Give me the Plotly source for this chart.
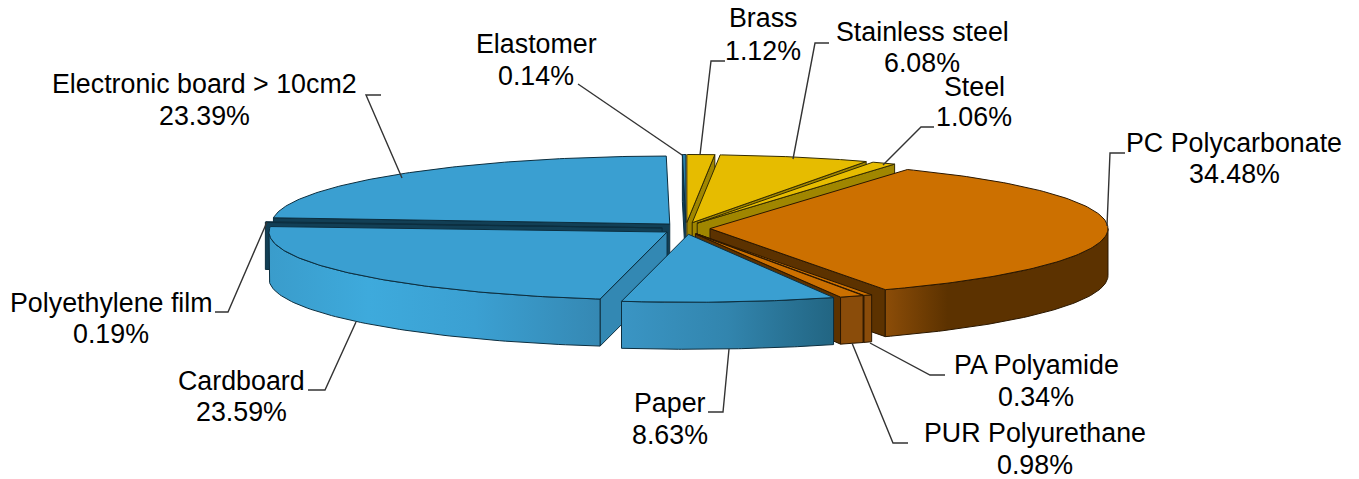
import numpy as np
import plotly.graph_objects as go

# ---- data, clockwise from twelve o'clock ----
categories = ["Brass", "Stainless steel", "Steel", "PC Polycarbonate", "PA Polyamide",
              "PUR Polyurethane", "Paper", "Cardboard", "Polyethylene film",
              "Electronic board > 10cm2", "Elastomer"]
values = [1.12, 6.08, 1.06, 34.48, 0.34, 0.98, 8.63, 23.59, 0.19, 23.39, 0.14]

# ---- label placement (centre x, line 1 y, line 2 y) ----
label_pos = [(763, 18, 51), (922, 32, 63), (974, 87, 117), (1234, 143, 174), (1036, 365, 397),
             (1035, 433, 465), (670, 403, 435), (241, 381, 412), (111, 303, 334),
             (204, 84, 116), (536, 44, 76)]
leaders = [
    [(725, 61), (711, 61), (700, 155)],
    [(829, 43), (815, 43), (793, 159)],
    [(934, 127), (921, 127), (883, 165)],
    [(1125, 153), (1110, 153), (1107, 226)],
    [(945, 375), (930, 375), (870, 343)],
    [(908, 443), (893, 443), (852, 343)],
    [(708, 412), (723, 412), (729, 349)],
    [(308, 390), (325, 390), (356, 322)],
    [(215, 312), (228, 312), (267, 222)],
    [(381, 95), (366, 95), (402, 178)],
    [(578, 84), (682, 155)],
]

# ---- pie geometry ----
CX, CY = 686, 228.4
RX, RY = 398, 68
DEPTH = 47
PULL_X, PULL_Y = 24, 5.9

# ---- styles ----
BLUE = dict(top="#3A9FD1", face="#3388B3", line="#0C2E3F")
ORANGE = dict(top="#CC7000", face="#5C3200", line="#2A1700")
YELLOW = dict(top="#E6BC00", face="#A08600", line="#332B00")
family = [YELLOW, YELLOW, YELLOW, ORANGE, ORANGE, ORANGE, BLUE, BLUE, BLUE, BLUE, BLUE]
wall = {
    3: [(0, "#8C4D08"), (0.28, "#5C3200"), (1, "#5C3200")],
    4: [(0, "#8A4C0A"), (1, "#8A4C0A")],
    5: [(0, "#8A4C0A"), (1, "#8A4C0A")],
    6: [(0, "#3A95C4"), (0.5, "#3285AE"), (1, "#226582")],
    7: [(0, "#3A9CCB"), (0.3, "#3EAADC"), (0.62, "#3BA0D2"), (1, "#3588B3")],
}
face_override = {3: "#5C3200", 8: "#123F55", 9: "#123F55", 10: "#123F55"}
top_override = {8: "#1C566F", 10: "#2A80A8"}
draw_order = [9, 10, 8, 7, 0, 1, 2, 3, 4, 5, 6]

edges = np.cumsum([0] + values) / sum(values) * 360

fig = go.Figure()


def add_poly(name, xs, ys, color, line, gradient=None):
    kw = dict(fillgradient=dict(type="horizontal", colorscale=gradient)) if gradient else dict(fillcolor=color)
    fig.add_trace(go.Scatter(x=xs, y=ys, mode="lines", fill="toself", name=name, hoverinfo="name",
                             line=dict(color=line, width=1), showlegend=False, **kw))


for i in draw_order:
    a, b = edges[i], edges[i + 1]
    m = np.radians((a + b) / 2)
    ax = CX + PULL_X * np.sin(m)
    ay = CY - PULL_Y * np.cos(m)

    def px(t):
        return ax + RX * np.sin(np.radians(t))

    def py(t):
        return ay - RY * np.cos(np.radians(t))

    st = family[i]
    face = face_override.get(i, st["face"])
    # cut faces turned toward the viewer
    if np.sin(np.radians(a)) < 0:
        add_poly(categories[i], [ax, px(a), px(a), ax, ax],
                 [ay, py(a), py(a) + DEPTH, ay + DEPTH, ay], face, st["line"])
    if np.sin(np.radians(b)) > 0:
        add_poly(categories[i], [ax, px(b), px(b), ax, ax],
                 [ay, py(b), py(b) + DEPTH, ay + DEPTH, ay], face, st["line"])
    # outer wall: the front half of the rim only
    lo, hi = max(a, 90), min(b, 270)
    if hi > lo:
        t = np.linspace(lo, hi, 80)
        xs = np.r_[px(t), px(t[::-1]), px(t[0])]
        ys = np.r_[py(t), py(t[::-1]) + DEPTH, py(t[0])]
        add_poly(categories[i], xs, ys, face, st["line"], wall.get(i))
    # top
    t = np.linspace(a, b, 120)
    add_poly(categories[i], np.r_[ax, px(t), ax], np.r_[ay, py(t), ay],
             top_override.get(i, st["top"]), st["line"])

annotations = []
for name, v, (lx, y1, y2) in zip(categories, values, label_pos):
    for text, y in ((name, y1), (f"{v:.2f}%", y2)):
        annotations.append(dict(x=lx, y=y, text=text, showarrow=False, xanchor="center", yanchor="middle",
                                font=dict(family="Liberation Sans", size=26.8, color="#000000")))

shapes = []
for pts in leaders:
    path = "M " + " L ".join(f"{x},{y}" for x, y in pts)
    shapes.append(dict(type="path", path=path, xref="x", yref="y", layer="above",
                       line=dict(color="#333333", width=1.4)))

fig.update_layout(
    width=1359, height=479, margin=dict(l=0, r=0, t=0, b=0),
    paper_bgcolor="white", plot_bgcolor="white", showlegend=False,
    xaxis=dict(range=[0, 1359], visible=False, fixedrange=True),
    yaxis=dict(range=[479, 0], visible=False, fixedrange=True),
    annotations=annotations, shapes=shapes,
)
fig.write_html("out.html", config=dict(displayModeBar=False),
               post_script="document.body.style.margin='0';document.body.style.overflow='hidden';")
